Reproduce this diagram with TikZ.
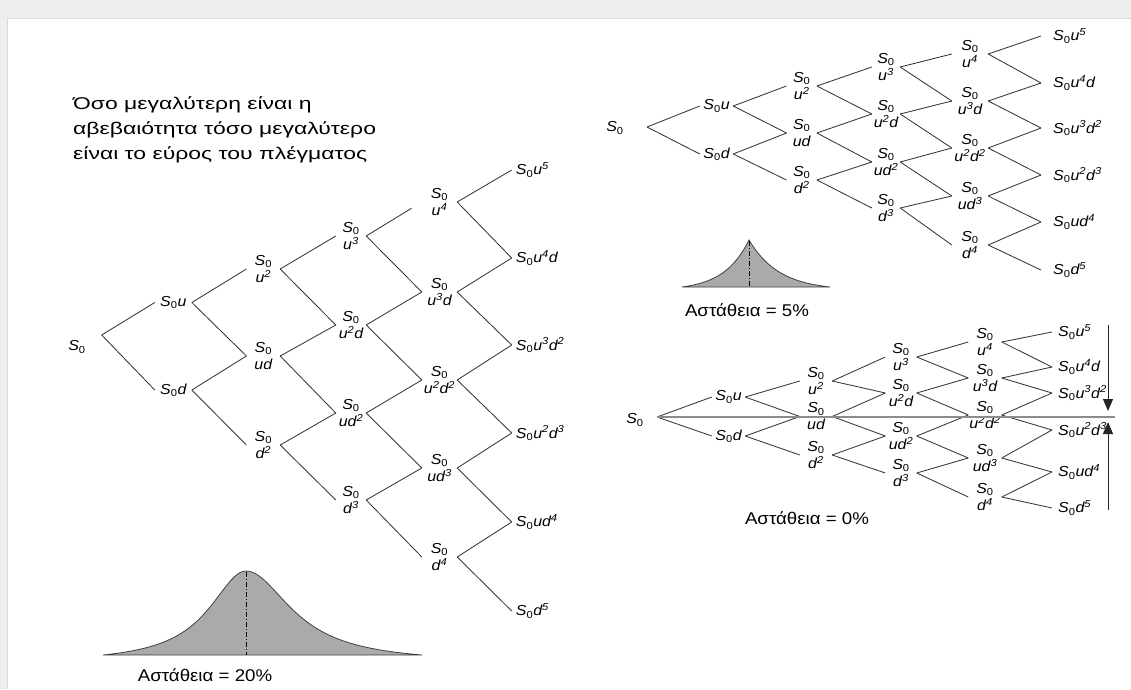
\documentclass[tikz,border=0pt]{standalone}
\usepackage{fontspec}
\setmainfont{Liberation Sans}
\newfontfamily\grfont[FakeStretch=1.35]{Liberation Sans}
\newfontfamily\lblfont[FakeStretch=1.1]{Liberation Sans}
\newfontfamily\volfont[FakeStretch=1.1]{Liberation Sans}
\usetikzlibrary{arrows.meta}
\definecolor{frameg}{RGB}{238,238,238}
\definecolor{bellfill}{RGB}{170,170,170}
\newcommand{\Szero}{S\textsubscript{\upshape 0}}
\newcommand{\spw}[1]{\textsuperscript{#1}}
\newcommand{\lattxt}[2]{%
\ifcase#1 \Szero\or
\ifcase#2 \Szero u\or \Szero d\fi\or
\ifcase#2 \Szero\\u\spw{2}\or \Szero\\ud\or \Szero\\d\spw{2}\fi\or
\ifcase#2 \Szero\\u\spw{3}\or \Szero\\u\spw{2}d\or \Szero\\ud\spw{2}\or \Szero\\d\spw{3}\fi\or
\ifcase#2 \Szero\\u\spw{4}\or \Szero\\u\spw{3}d\or \Szero\\u\spw{2}d\spw{2}\or \Szero\\ud\spw{3}\or \Szero\\d\spw{4}\fi\or
\ifcase#2 \Szero u\spw{5}\or \Szero u\spw{4}d\or \Szero u\spw{3}d\spw{2}\or \Szero u\spw{2}d\spw{3}\or \Szero ud\spw{4}\or \Szero d\spw{5}\fi
\fi}
\tikzset{
  edge/.style={draw=black!78, line width=0.85pt},
  lbl/.style={font=\lblfont\fontsize{14.5}{17}\itshape, inner sep=0pt, align=center},
  endlbl/.style={font=\lblfont\fontsize{14.5}{17}\itshape, anchor=west, inner ysep=0pt},
  vol/.style={font=\volfont\fontsize{17}{20}\selectfont, inner sep=0pt},
  bellline/.style={draw=black!75, line width=0.8pt, fill=bellfill},
  dashdot/.style={draw=black, line width=0.8pt, dash pattern=on 5pt off 2pt on 1pt off 2pt},
  arr/.style={draw=black!85, line width=1pt, -{Triangle[width=10pt,length=12pt]}},
}
\begin{document}
\begin{tikzpicture}[x=1pt,y=-1pt]
\useasboundingbox (0,0) rectangle (1131,689);
\fill[frameg] (0,0) rectangle (1131,689);
\fill[white] (7,18) rectangle (1131,689);
\draw[black!15, line width=0.6pt] (7,689) -- (7,18) -- (1131,18);

% ---------- heading text
\node[anchor=north west, align=left, inner sep=0pt, font=\grfont\fontsize{17}{25}\selectfont] (txt) at (73,96)
  {Όσο μεγαλύτερη είναι η\\αβεβαιότητα τόσο μεγαλύτερο\\είναι το εύρος του πλέγματος};

% ---------- left tree (20%)
\node[lbl] (L0) at (77,347) {\Szero};
\coordinate (L0v) at (101.7,335);
\foreach \cc/\x/\w/\ys in {1/173.3/36.7/{302.5,390}, 2/263.3/33.4/{269,356,445}, 3/351/30/{236,325,413,500}, 4/439.5/35/{202,292,380,468,557}}{
  \foreach \y [count=\ii from 0] in \ys {
    \node[lbl, minimum width=\w pt] (L\cc\ii) at (\x,\y) {\lattxt{\cc}{\ii}};
  }
}
\foreach \y [count=\ii from 0] in {170,258,345,433,522,611}{
  \node[endlbl, inner xsep=4pt] (L5\ii) at (511.7,\y) {\lattxt{5}{\ii}};
}
\draw[edge] (L0v) -- (L10.west);
\draw[edge] (L0v) -- (L11.west);
\foreach \cc in {1,...,4}{
  \pgfmathtruncatemacro\cnext{\cc+1}
  \foreach \ii in {0,...,\cc}{
    \pgfmathtruncatemacro\inext{\ii+1}
    \pgfmathsetmacro\sh{(\cc==3)*(\ii==0)*12}
    \draw[edge, shorten >=\sh pt] (L\cc\ii.east) -- (L\cnext\ii.west);
    \draw[edge] (L\cc\ii.east) -- (L\cnext\inext.west);
  }
}
% bell 20%
\draw[bellline] plot[domain=103:246, samples=50] (\x,{655-84*(1/(1+((\x-246)/45)^2)-0.0901)/0.9099})
  -- plot[domain=246:422, samples=60] (\x,{655-84*(1/(1+((\x-246)/55)^2)-0.0890)/0.9110}) -- cycle;
\draw[dashdot] (246,572) -- (246,655);
\node[vol] (v20) at (205,675) {Αστάθεια = 20\%};

% ---------- top right tree (5%)
\node[lbl] (T0) at (615,128) {\Szero};
\coordinate (T0v) at (647,127);
\foreach \cc/\x/\w/\ys in {1/716.5/33/{106,154}, 2/801.7/30/{86,133,180}, 3/886/28/{67,114,162,208}, 4/970/36/{54,101,148,196,245}}{
  \foreach \y [count=\ii from 0] in \ys {
    \node[lbl, minimum width=\w pt] (T\cc\ii) at (\x,\y) {\lattxt{\cc}{\ii}};
  }
}
\foreach \y [count=\ii from 0] in {36,83,128,175,222,270}{
  \node[endlbl, inner xsep=12pt] (T5\ii) at (1041,\y) {\lattxt{5}{\ii}};
}
\draw[edge] (T0v) -- (T10.west);
\draw[edge] (T0v) -- (T11.west);
\foreach \cc in {1,...,4}{
  \pgfmathtruncatemacro\cnext{\cc+1}
  \foreach \ii in {0,...,\cc}{
    \pgfmathtruncatemacro\inext{\ii+1}
    \draw[edge] (T\cc\ii.east) -- (T\cnext\ii.west);
    \draw[edge] (T\cc\ii.east) -- (T\cnext\inext.west);
  }
}
% bell 5%
\draw[bellline] plot[domain=682:749, samples=50] (\x,{287-47*(exp(-(749-\x)/25)-0.0686)/0.9314})
  -- plot[domain=749:830, samples=50] (\x,{287-47*(exp(-(\x-749)/30)-0.0672)/0.9328}) -- cycle;
\draw[dashdot] (749,241) -- (749,287);
\node[vol] (v5) at (747,310) {Αστάθεια = 5\%};

% ---------- bottom right tree (0%)
\node[lbl] (B0) at (635,420) {\Szero};
\coordinate (B0v) at (657,417);
\coordinate (Bend) at (1115,417);
\foreach \cc/\x/\w/\ys in {1/728.5/33/{397,436}, 2/816/32/{381,416.5,455}, 3/901/31/{357,393,436,473}, 4/985/33/{342,378,415,458,497}}{
  \foreach \y [count=\ii from 0] in \ys {
    \node[lbl, minimum width=\w pt] (B\cc\ii) at (\x,\y) {\lattxt{\cc}{\ii}};
  }
}
\foreach \y [count=\ii from 0] in {332,367,393,430,472,508}{
  \node[endlbl, inner xsep=6pt] (B5\ii) at (1052,\y) {\lattxt{5}{\ii}};
}
\draw[edge] (B0v) -- (B10.west);
\draw[edge] (B0v) -- (B11.west);
\foreach \cc in {1,...,4}{
  \pgfmathtruncatemacro\cnext{\cc+1}
  \foreach \ii in {0,...,\cc}{
    \pgfmathtruncatemacro\inext{\ii+1}
    \draw[edge] (B\cc\ii.east) -- (B\cnext\ii.west);
    \draw[edge] (B\cc\ii.east) -- (B\cnext\inext.west);
  }
}
\draw[black!45, line width=2.6pt] (B0v) -- (Bend);
\coordinate (A1) at (1108,325);
\coordinate (A2) at (1108,411);
\coordinate (A3) at (1108,510);
\coordinate (A4) at (1108,422);
\draw[arr] (A1) -- (A2);
\draw[arr] (A3) -- (A4);
\node[vol] (v0) at (807,518) {Αστάθεια = 0\%};
\end{tikzpicture}
\end{document}
